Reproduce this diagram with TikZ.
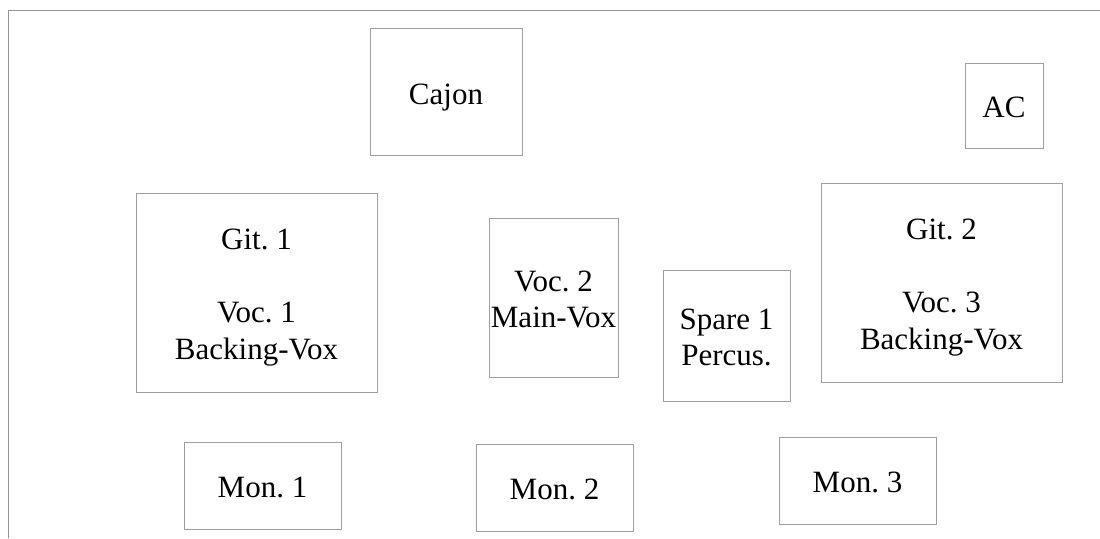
\documentclass[tikz,border=0pt]{standalone}
\usepackage{fontspec}
\setmainfont{Liberation Serif}
\frenchspacing
\newcommand{\lostrut}{\rule[-6.7pt]{0pt}{37.3pt}}
\newcommand{\lodepth}{\rule[-6.7pt]{0pt}{6.7pt}}
\begin{document}
\begin{tikzpicture}[x=1pt,y=-1pt,
  frameline/.style={draw=black!42,line width=1pt},
  box/.style={draw=black!38,line width=1pt,rectangle,inner sep=0pt,align=center,
    font=\fontsize{31}{36.5}\selectfont}]
\useasboundingbox (0,0) rectangle (1100,538);
\coordinate (tl) at (8,10);
\coordinate (tr) at (1100,10);
\coordinate (bl) at (8,538);
\draw[frameline] (tr) -- (tl) -- (bl);
\node[box,minimum width=152pt,minimum height=127pt] (cajon) at (446,92.3) {\lostrut Cajon};
\node[box,minimum width=78pt,minimum height=85pt] (ac) at (1004,105.5) {\lostrut AC};
\node[box,minimum width=241pt,minimum height=199pt] (git1) at (256.5,292.5) {\lostrut Git. 1\\[36.5pt]Voc. 1\\Backing-Vox\lodepth};
\node[box,minimum width=129pt,minimum height=159pt] (voc2) at (553.5,297.5) {\lostrut Voc. 2\\Main-Vox\lodepth};
\node[box,minimum width=127pt,minimum height=131pt] (spare) at (726.5,335.5) {\lostrut Spare 1\\Percus.\lodepth};
\node[box,minimum width=241pt,minimum height=199pt] (git2) at (941.5,282.5) {\lostrut Git. 2\\[36.5pt]Voc. 3\\Backing-Vox\lodepth};
\node[box,minimum width=157pt,minimum height=87pt] (mon1) at (262.5,485.5) {\lostrut Mon. 1};
\node[box,minimum width=157pt,minimum height=87pt] (mon2) at (554.5,487.5) {\lostrut Mon. 2};
\node[box,minimum width=157pt,minimum height=87pt] (mon3) at (857.5,480.5) {\lostrut Mon. 3};
\end{tikzpicture}
\end{document}
